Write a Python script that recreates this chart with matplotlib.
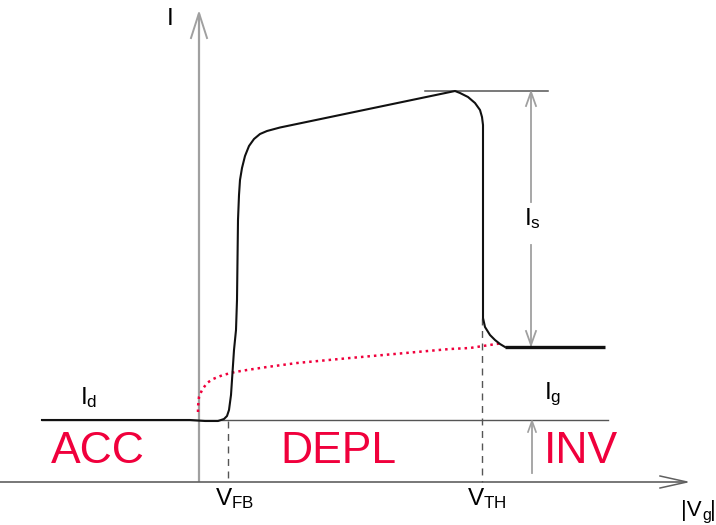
import matplotlib
matplotlib.use("Agg")
import matplotlib.pyplot as plt

plt.rcParams['font.family'] = ['Liberation Sans', 'DejaVu Sans']
plt.rcParams['mathtext.fontset'] = 'custom'
plt.rcParams['mathtext.rm'] = 'Liberation Sans'
plt.rcParams['mathtext.it'] = 'Liberation Sans'

# Schematic I-V curve (drawing units, y grows downward)
curve_x = [42, 190, 205, 218, 224, 227, 229, 231, 232, 234, 236, 237, 238, 239, 240,
           242, 245, 249, 254, 260, 267, 280, 455, 460, 468, 475, 480, 482, 483, 483,
           485, 490, 495, 500, 505]
curve_y = [420, 420, 421, 421, 419, 416, 410, 395, 380, 350, 330, 300, 220, 195, 180,
           168, 156, 146, 139, 134, 131, 127.5, 91, 93, 97, 103, 110, 117, 125, 318,
           327, 335, 340, 344, 347]
inv_x = [505, 605]
inv_y = [347, 347]

# Red dotted gate-current curve
ig_x = [198, 198, 199, 202, 207, 213, 223, 235, 247, 267, 297, 350, 400, 450, 470, 483, 503]
ig_y = [412, 407, 397, 390, 383, 379, 375, 372, 370, 367, 363, 358, 353.5, 349, 348, 346, 343]

RED = '#F0003C'

fig = plt.figure(figsize=(7.16, 5.25), dpi=100)
ax = fig.add_axes([0, 0, 1, 1])
ax.set_xlim(0, 716)
ax.set_ylim(525, 0)
ax.axis('off')

# Axes
ax.plot([199, 199], [482, 14], color='#a0a0a0', lw=1.6, solid_capstyle='butt')
ax.plot([191, 199, 207], [38, 13, 38], color='#a0a0a0', lw=1.4)
ax.plot([0, 686], [482, 482], color='#606060', lw=1.2)
ax.plot([660, 687, 660], [476, 482, 488], color='#606060', lw=1.1)

# Baseline and top reference line
ax.plot([42, 608], [420, 420], color='#555555', lw=1.0)
ax.plot([425, 548], [91, 91], color='#555555', lw=1.1)

# Dashed verticals
ax.plot([228, 228], [421, 482], color='#555555', lw=1.0, dashes=(5, 4))
ax.plot([482, 482], [318, 482], color='#555555', lw=1.0, dashes=(5, 4))

# Is double arrow
ax.plot([531, 531], [93, 202], color='#a0a0a0', lw=1.3)
ax.plot([531, 531], [245, 345], color='#a0a0a0', lw=1.3)
ax.plot([526, 531, 536], [106, 92, 106], color='#a0a0a0', lw=1.3)
ax.plot([526, 531, 536], [331, 345, 331], color='#a0a0a0', lw=1.3)
# Ig arrow
ax.plot([532, 532], [473, 422], color='#a0a0a0', lw=1.3)
ax.plot([528, 532, 536], [432, 421, 432], color='#a0a0a0', lw=1.2)

# Curves
ax.plot(ig_x, ig_y, color=RED, lw=1.8, linestyle=(0, (1, 1.6)))
ax.plot(curve_x, curve_y, color='#111111', lw=1.5, solid_joinstyle='round')
ax.plot(inv_x, inv_y, color='#111111', lw=2.4, solid_capstyle='butt')

# Labels
fs = 17.5
ax.text(170, 19, 'I', fontsize=fs, ha='center', va='center')
ax.text(80, 404, r'$\mathregular{I_d}$', fontsize=fs, ha='left', va='baseline')
ax.text(524, 225, r'$\mathregular{I_s}$', fontsize=fs, ha='left', va='baseline')
ax.text(544, 399, r'$\mathregular{I_g}$', fontsize=fs, ha='left', va='baseline')
ax.text(215, 505, r'$\mathregular{V_{FB}}$', fontsize=fs, ha='left', va='baseline')
ax.text(467, 505, r'$\mathregular{V_{TH}}$', fontsize=fs, ha='left', va='baseline')
# |Vg| composed from pieces so it fits at the right edge
ax.text(681, 516, '|V', fontsize=16, ha='left', va='baseline')
ax.text(702, 520, 'g', fontsize=11.5, ha='left', va='baseline')
ax.text(710, 516, '|', fontsize=16, ha='left', va='baseline')

fr = 32
ax.text(98, 463, 'ACC', fontsize=fr, color=RED, ha='center', va='baseline')
ax.text(338, 463, 'DEPL', fontsize=fr, color=RED, ha='center', va='baseline')
ax.text(581, 463, 'INV', fontsize=fr, color=RED, ha='center', va='baseline')

fig.savefig('out.png', dpi=100)
